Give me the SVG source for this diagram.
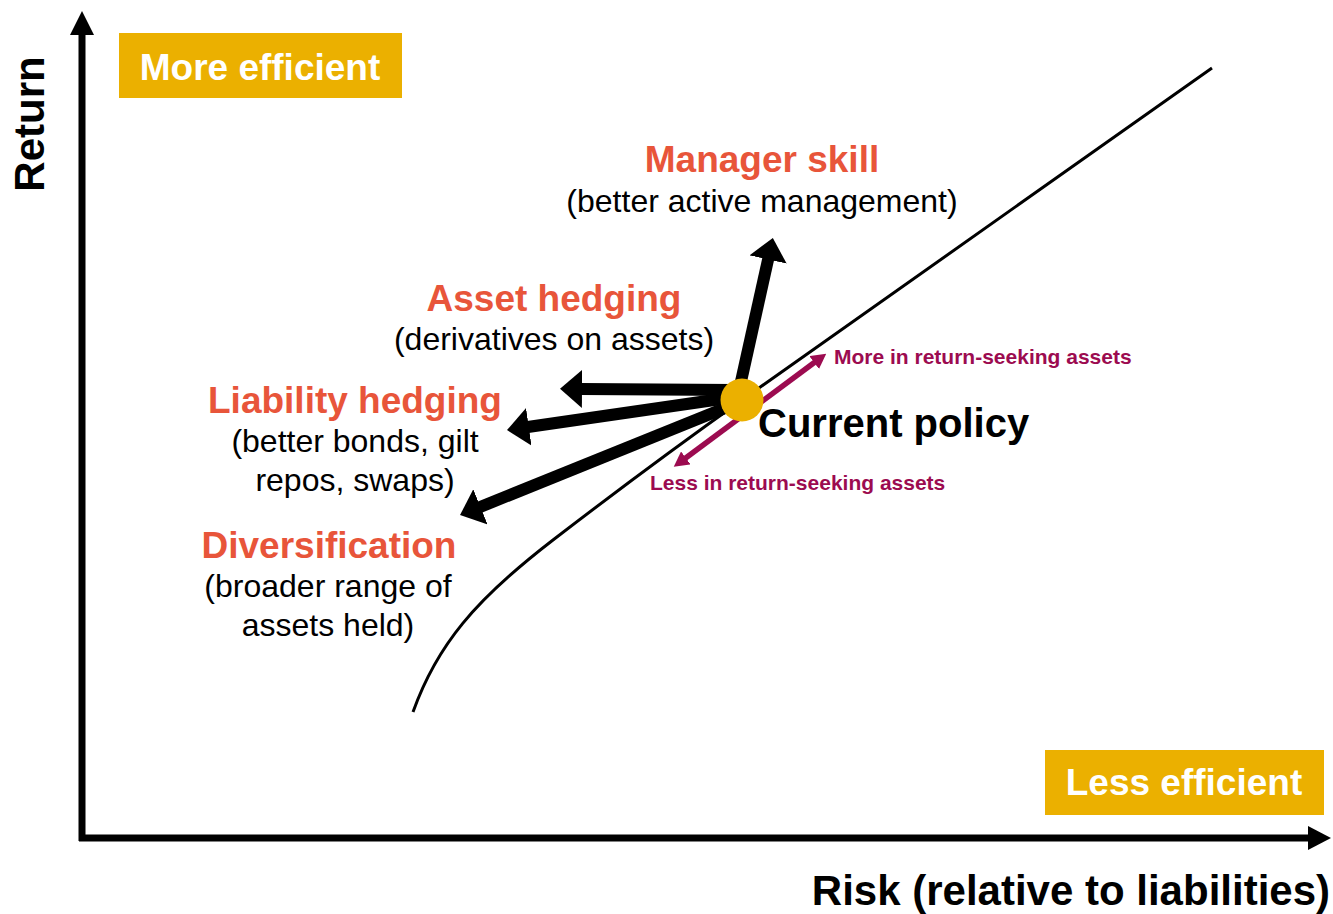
<svg xmlns="http://www.w3.org/2000/svg" width="1333" height="914" viewBox="0 0 1333 914">
  <style>
    text { font-family: "Liberation Sans", Arial, sans-serif; }
    .head { font-size: 37px; font-weight: bold; fill: #E8553A; text-anchor: middle; }
    .sub { font-size: 32px; fill: #000; text-anchor: middle; }
    .tag { font-size: 37px; font-weight: bold; fill: #fff; text-anchor: middle; }
    .axis-label { font-size: 42px; font-weight: bold; fill: #000; }
    .shift { font-size: 21px; font-weight: bold; fill: #9C0B50; }
    .move { stroke: #000; stroke-width: 12; fill: none; }
    .axis { stroke: #000; stroke-width: 7; fill: none; }
    .gold { fill: #EBB000; }
  </style>
  <defs>
    <marker id="bigHead" markerUnits="userSpaceOnUse" viewBox="0 -19 22 38" markerWidth="22" markerHeight="38" refX="1" refY="0" orient="auto">
      <path d="M0,-19 L22,0 L0,19 Z" fill="#000"/>
    </marker>
    <marker id="smallHead" markerUnits="userSpaceOnUse" viewBox="0 -8 15 16" markerWidth="15" markerHeight="16" refX="1" refY="0" orient="auto-start-reverse">
      <path d="M0,-8 L15,0 L0,8 Z" fill="#9C0B50"/>
    </marker>
  </defs>

  <!-- axes -->
  <g id="axes">
    <line class="axis" x1="82" y1="841" x2="82" y2="33"/>
    <path d="M70,35 L82,11 L94,35 Z" fill="#000"/>
    <line class="axis" x1="79" y1="838" x2="1310" y2="838"/>
    <path d="M1308,826 L1331,838 L1308,850 Z" fill="#000"/>
    <text class="axis-label" transform="translate(44,124) rotate(-90)" text-anchor="middle" font-size="40">Return</text>
    <text class="axis-label" x="1330" y="905" text-anchor="end">Risk (relative to liabilities)</text>
  </g>

  <!-- efficiency tags -->
  <g id="more-efficient">
    <rect class="gold" x="119" y="33" width="283" height="65"/>
    <text class="tag" x="260" y="80">More efficient</text>
  </g>
  <g id="less-efficient">
    <rect class="gold" x="1045" y="750" width="279" height="65"/>
    <text class="tag" x="1184" y="795">Less efficient</text>
  </g>

  <!-- frontier curve -->
  <g id="frontier">
    <path d="M413,712 C437,645 475,600 553,540 S680,444 742,400 L1212,68" fill="none" stroke="#000" stroke-width="3"/>
  </g>

  <!-- connectors -->
  <g id="connectors">
    <line class="move" x1="738" y1="395" x2="768.3" y2="258.5" marker-end="url(#bigHead)"/>
    <line class="move" x1="735" y1="390" x2="581" y2="389" marker-end="url(#bigHead)"/>
    <line class="move" x1="735" y1="397" x2="527.8" y2="427" marker-end="url(#bigHead)"/>
    <line class="move" x1="735" y1="404" x2="479.5" y2="507.2" marker-end="url(#bigHead)"/>
    <line x1="685" y1="458.5" x2="815" y2="362" stroke="#9C0B50" stroke-width="5.5" marker-start="url(#smallHead)" marker-end="url(#smallHead)"/>
  </g>

  <!-- current policy -->
  <g id="current-policy">
    <circle class="gold" cx="742" cy="400" r="21.5"/>
    <text x="758" y="437" font-size="40" font-weight="bold" fill="#000">Current policy</text>
  </g>

  <g id="shift-labels">
    <text class="shift" x="834" y="364">More in return-seeking assets</text>
    <text class="shift" x="650" y="490">Less in return-seeking assets</text>
  </g>

  <!-- levers -->
  <g id="manager-skill">
    <text class="head" x="762" y="172">Manager skill</text>
    <text class="sub" x="762" y="212">(better active management)</text>
  </g>
  <g id="asset-hedging">
    <text class="head" x="554" y="311">Asset hedging</text>
    <text class="sub" x="554" y="350">(derivatives on assets)</text>
  </g>
  <g id="liability-hedging">
    <text class="head" x="355" y="413">Liability hedging</text>
    <text class="sub" x="355" y="452">(better bonds, gilt</text>
    <text class="sub" x="355" y="491">repos, swaps)</text>
  </g>
  <g id="diversification">
    <text class="head" x="329" y="558">Diversification</text>
    <text class="sub" x="328" y="597">(broader range of</text>
    <text class="sub" x="328" y="636">assets held)</text>
  </g>
</svg>
